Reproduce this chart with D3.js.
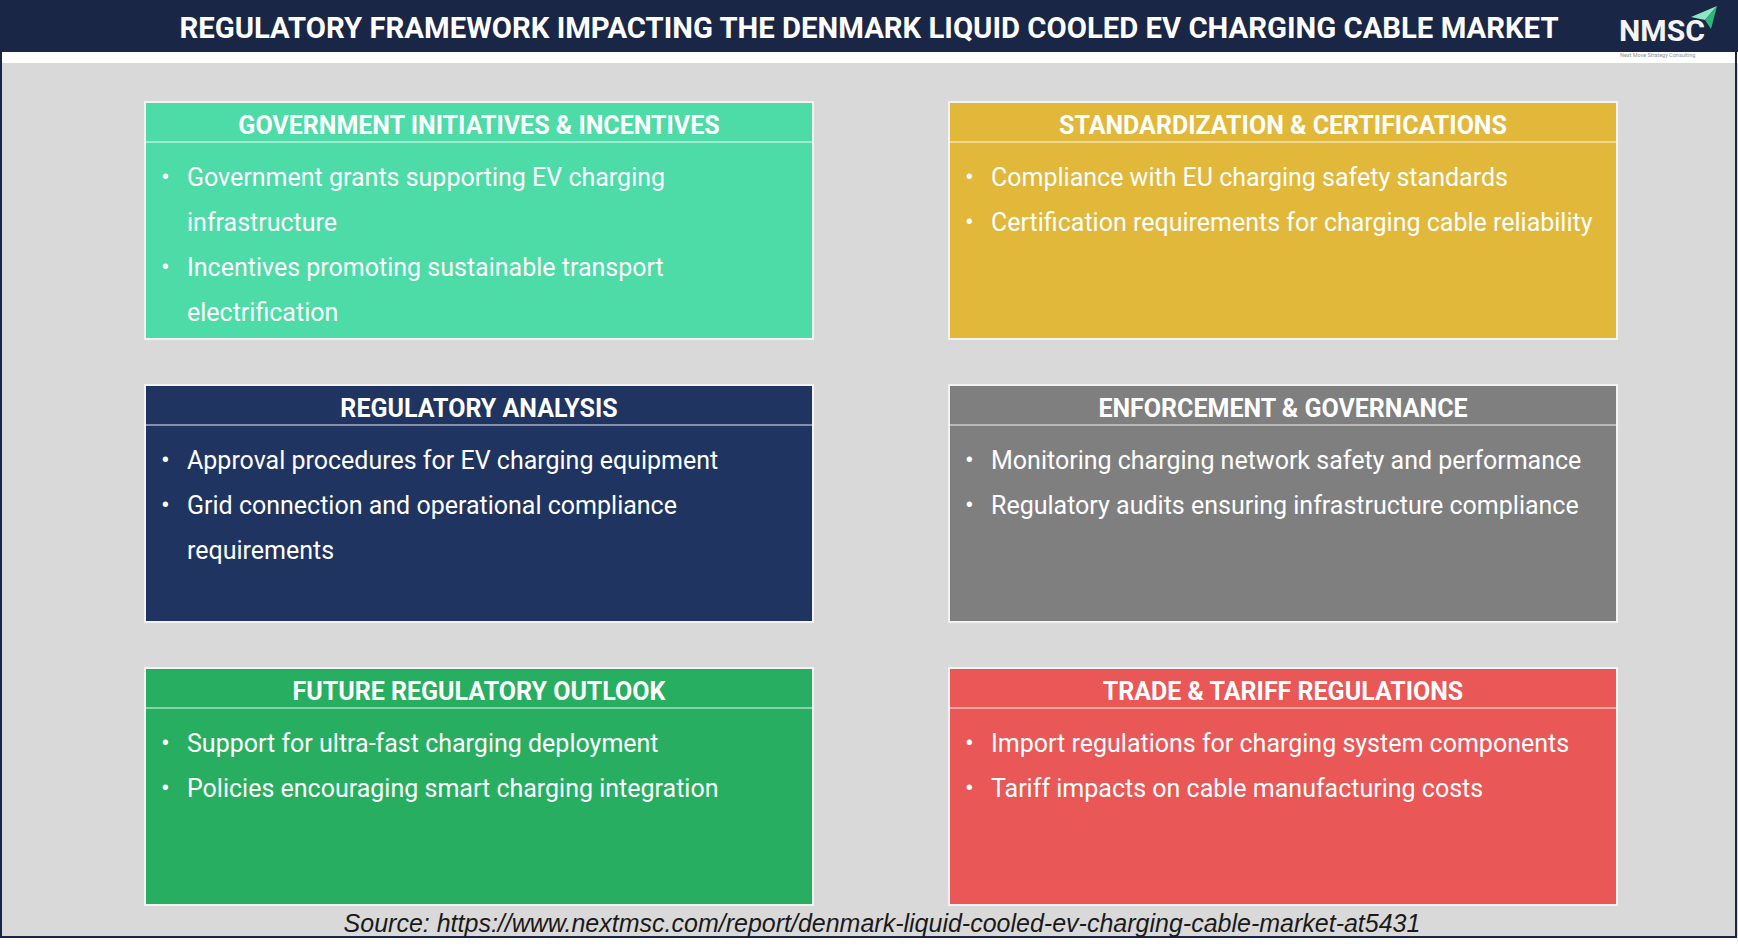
<!DOCTYPE html>
<html>
<head>
<meta charset="utf-8">
<script src="https://cdn.jsdelivr.net/npm/d3@7"></script>
<style>
  body { margin: 0; background: #ffffff; }
</style>
</head>
<body>
<div id="chart"></div>
<script>
// 1: DATA
const chartTitle = "REGULATORY FRAMEWORK IMPACTING THE DENMARK LIQUID COOLED EV CHARGING CABLE MARKET";
const sourceText = "Source: https://www.nextmsc.com/report/denmark-liquid-cooled-ev-charging-cable-market-at5431";

const boxTitles = [
    "GOVERNMENT INITIATIVES & INCENTIVES",
    "STANDARDIZATION & CERTIFICATIONS",
    "REGULATORY ANALYSIS",
    "ENFORCEMENT & GOVERNANCE",
    "FUTURE REGULATORY OUTLOOK",
    "TRADE & TARIFF REGULATIONS"
];

const boxBullets = [
    ["Government grants supporting EV charging infrastructure",
     "Incentives promoting sustainable transport electrification"],
    ["Compliance with EU charging safety standards",
     "Certification requirements for charging cable reliability"],
    ["Approval procedures for EV charging equipment",
     "Grid connection and operational compliance requirements"],
    ["Monitoring charging network safety and performance",
     "Regulatory audits ensuring infrastructure compliance"],
    ["Support for ultra-fast charging deployment",
     "Policies encouraging smart charging integration"],
    ["Import regulations for charging system components",
     "Tariff impacts on cable manufacturing costs"]
];

const boxColors = ["#4ddba7", "#e2b83b", "#1f3461", "#7f7f7f", "#28ae61", "#ea5757"];

// 2: SIZES
const W = 1738, H = 952;
const boxW = 668, boxH = 237;
const headerH = 40;
const lineH = 45;
const wrapWidth = 620;

const svg = d3.select("#chart")
    .append("svg")
    .attr("width", W)
    .attr("height", H)
    .style("display", "block");

// 3: SCALES (grid of 2 columns x 3 rows)
const col = d3.scalePoint().domain([0, 1]).range([145, 949]);
const row = d3.scalePoint().domain([0, 1, 2]).range([102, 668]);

// 4: BACKGROUND + HEADER
svg.append("rect").attr("width", W).attr("height", H).attr("fill", "#ffffff");

svg.append("rect")
    .attr("x", 0).attr("y", 63)
    .attr("width", W).attr("height", 874)
    .attr("fill", "#d9d9d9");

svg.append("rect")
    .attr("x", 0).attr("y", 0)
    .attr("width", W).attr("height", 52)
    .attr("fill", "#1a2646");

// frame around the panel
svg.append("rect")
    .attr("x", 1).attr("y", 1)
    .attr("width", W - 3).attr("height", 936)
    .attr("fill", "none")
    .attr("stroke", "#1a2646")
    .attr("stroke-width", 2);

svg.append("text")
    .attr("x", W / 2)
    .attr("y", 28)
    .attr("dy", "0.35em")
    .attr("text-anchor", "middle")
    .style("font-family", "Roboto, sans-serif")
    .style("font-weight", 700)
    .style("font-size", "29.3px")
    .attr("fill", "#ffffff")
    .text(chartTitle);

// logo
const logo = svg.append("g");
logo.append("text")
    .attr("x", 1619).attr("y", 41)
    .attr("textLength", 86)
    .attr("lengthAdjust", "spacingAndGlyphs")
    .style("font-family", "Roboto, sans-serif")
    .style("font-weight", 700)
    .style("font-size", "29px")
    .attr("fill", "#f4f4f4")
    .text("NMSC");
logo.append("path")
    .attr("d", "M1691,17 L1717,6 L1705,20 Z")
    .attr("fill", "#8ee6c3");
logo.append("path")
    .attr("d", "M1705,20 L1717,6 L1711,29 Z")
    .attr("fill", "#2fb67a");
logo.append("text")
    .attr("x", 1620).attr("y", 57)
    .style("font-family", "Roboto, sans-serif")
    .style("font-size", "5.5px")
    .attr("fill", "#8a93a5")
    .text("Next Move Strategy Consulting");

// 5: BOXES
const probe = svg.append("text")
    .style("font-family", "Roboto, sans-serif")
    .style("font-size", "25px")
    .attr("opacity", 0);

function wrapLines(str) {
    const words = str.split(" ");
    const lines = [];
    let line = [];
    words.forEach(w => {
        line.push(w);
        probe.text(line.join(" "));
        if (probe.node().getComputedTextLength() > wrapWidth && line.length > 1) {
            line.pop();
            lines.push(line.join(" "));
            line = [w];
        }
    });
    lines.push(line.join(" "));
    return lines;
}

const boxes = svg.selectAll(".box")
    .data(boxTitles.map((t, i) => ({ title: t, bullets: boxBullets[i], color: boxColors[i], i })))
    .enter()
    .append("g")
    .attr("class", "box")
    .attr("transform", d => `translate(${col(d.i % 2)},${row(Math.floor(d.i / 2))})`);

boxes.append("rect")
    .attr("width", boxW)
    .attr("height", boxH)
    .attr("fill", d => d.color)
    .attr("stroke", "#f3f3f3")
    .attr("stroke-width", 2);

boxes.append("line")
    .attr("x1", 0).attr("x2", boxW)
    .attr("y1", headerH).attr("y2", headerH)
    .attr("stroke", "#ffffff")
    .attr("stroke-opacity", 0.9)
    .attr("stroke-width", 1.2);

boxes.append("text")
    .attr("x", boxW / 2)
    .attr("y", 23)
    .attr("dy", "0.35em")
    .attr("text-anchor", "middle")
    .style("font-family", "Roboto, sans-serif")
    .style("font-weight", 700)
    .style("font-size", "25px")
    .attr("fill", "#ffffff")
    .text(d => d.title);

boxes.each(function (d) {
    const g = d3.select(this);
    let lineNo = 0;
    d.bullets.forEach(b => {
        const lines = wrapLines(b);
        g.append("text")
            .attr("x", 16)
            .attr("y", 75 + lineNo * lineH)
            .attr("dy", "0.35em")
            .style("font-family", "Roboto, sans-serif")
            .style("font-size", "26px")
            .attr("fill", "#ffffff")
            .text("\u2022");
        lines.forEach(l => {
            g.append("text")
                .attr("x", 42)
                .attr("y", 75 + lineNo * lineH)
                .attr("dy", "0.35em")
                .style("font-family", "Roboto, sans-serif")
                .style("font-size", "25px")
                .attr("fill", "#ffffff")
                .text(l);
            lineNo++;
        });
    });
});
probe.remove();

// 6: SOURCE
svg.append("text")
    .attr("x", 882)
    .attr("y", 923)
    .attr("dy", "0.35em")
    .attr("text-anchor", "middle")
    .style("font-family", "'Liberation Sans', Arial, sans-serif")
    .style("font-style", "italic")
    .style("font-size", "25px")
    .attr("fill", "#1a1a1a")
    .text(sourceText);
</script>
</body>
</html>
